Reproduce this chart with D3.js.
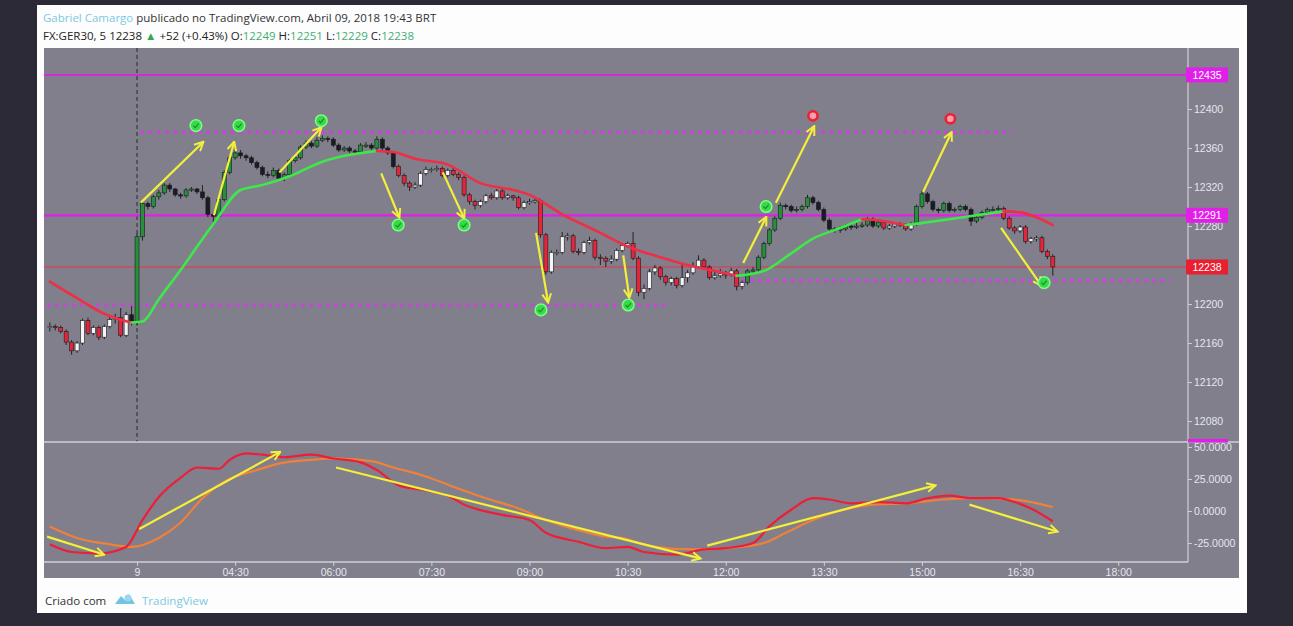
<!DOCTYPE html>
<html>
<head>
<meta charset="utf-8">
<script src="https://cdnjs.cloudflare.com/ajax/libs/d3/7.8.5/d3.min.js"></script>
<style>
html,body{margin:0;padding:0;background:#2b2a36;overflow:hidden;}
svg{display:block;font-family:"Open Sans",sans-serif;}
</style>
</head>
<body>
<svg id="chart" width="1293" height="626"></svg>
<script>
// FX:GER30, 5 min bars, 09 Apr 2018, first bar 01:40
var firstOpen = 12176;
var closes = [
12177,12176,12172,12161,12152,12160,12183,12170,12176,12166,
12177,12184,12186,12168,12189,12182,12269,12303,12300,12310,
12314,12322,12318,12312,12311,12317,12318,12315,12309,12292,
12290,12307,12335,12350,12355,12352,12350,12345,12340,12333,
12332,12337,12329,12333,12347,12350,12361,12365,12362,12368,
12370,12369,12363,12358,12360,12357,12356,12363,12363,12360,
12369,12360,12355,12341,12332,12324,12320,12322,12334,12338,
12338,12339,12332,12337,12333,12330,12312,12305,12301,12305,
12311,12309,12316,12309,12311,12309,12299,12304,12305,12306,
12271,12233,12253,12253,12269,12270,12254,12253,12263,12265,
12248,12247,12244,12246,12255,12260,12262,12247,12212,12216,
12233,12237,12228,12222,12226,12219,12227,12232,12238,12245,
12238,12227,12229,12231,12230,12234,12218,12222,12234,12235,
12248,12262,12276,12288,12301,12300,12296,12297,12300,12309,
12304,12297,12286,12277,12276,12277,12280,12279,12280,12281,
12287,12280,12284,12278,12280,12282,12281,12277,12282,12300,
12313,12305,12297,12296,12303,12296,12297,12300,12297,12285,
12289,12294,12297,12297,12298,12288,12278,12275,12279,12264,
12267,12268,12254,12249,12238];
var highs = [
12181,12179,12178,12174,12163,12162,12185,12186,12178,12178,
12179,12188,12190,12196,12192,12198,12272,12306,12305,12312,
12317,12324,12324,12319,12314,12319,12320,12319,12322,12311,
12294,12309,12337,12352,12358,12358,12354,12352,12347,12342,
12336,12340,12339,12335,12349,12352,12363,12368,12367,12371,
12373,12372,12371,12365,12362,12362,12359,12365,12366,12365,
12372,12371,12362,12357,12343,12334,12326,12325,12336,12341,
12340,12342,12341,12339,12341,12335,12332,12314,12307,12307,
12313,12314,12318,12318,12313,12312,12311,12306,12308,12309,
12308,12273,12255,12256,12274,12273,12272,12257,12265,12269,
12267,12251,12249,12250,12257,12262,12264,12274,12249,12220,
12236,12240,12239,12230,12228,12228,12242,12235,12243,12250,
12247,12240,12233,12236,12234,12237,12236,12224,12236,12238,
12250,12264,12278,12290,12304,12303,12302,12300,12302,12312,
12311,12306,12299,12288,12279,12280,12282,12282,12283,12284,
12289,12289,12286,12286,12282,12284,12284,12283,12284,12302,
12316,12315,12307,12299,12305,12305,12299,12302,12302,12299,
12291,12296,12299,12300,12301,12300,12290,12280,12281,12281,
12269,12270,12270,12256,12251];
var lows = [
12172,12173,12170,12158,12148,12150,12158,12168,12168,12163,
12164,12175,12180,12166,12166,12178,12178,12265,12297,12298,
12307,12312,12315,12310,12308,12309,12315,12313,12307,12289,
12284,12288,12305,12333,12348,12349,12347,12343,12338,12331,
12329,12330,12326,12326,12331,12345,12348,12359,12360,12360,
12366,12366,12361,12356,12356,12355,12354,12354,12360,12358,
12358,12358,12353,12339,12330,12321,12316,12318,12320,12332,
12335,12336,12330,12330,12331,12327,12310,12302,12297,12299,
12303,12307,12307,12307,12307,12306,12297,12297,12302,12303,
12268,12230,12231,12250,12251,12265,12252,12250,12251,12261,
12245,12240,12238,12241,12244,12253,12258,12245,12208,12205,
12214,12230,12225,12219,12219,12216,12217,12222,12230,12236,
12236,12225,12225,12227,12226,12228,12214,12215,12220,12231,
12233,12246,12260,12274,12286,12297,12294,12294,12295,12298,
12302,12295,12284,12275,12273,12273,12275,12276,12277,12278,
12279,12278,12278,12276,12276,12278,12279,12275,12275,12280,
12298,12303,12295,12293,12294,12294,12294,12295,12295,12280,
12283,12287,12292,12295,12295,12286,12276,12272,12273,12262,
12262,12264,12252,12246,12229];

// bars painted green/black (trend up) instead of white/red
var upRanges = [[15,63],[128,152],[159,174]];

// moving average (bar index, price)
var maBars   = [0,5,10,13,15,17,20,24,30,35,39,44,50,54,60,63,67,73,79,85,88,94,101,106,112,117,122,126,131,136,140,145,149,152,155,157,160,165,170,175,178,181,184];
var maValues = [12223,12206,12190,12184,12181,12182,12205,12235,12282,12317,12322,12331,12346,12352,12357,12356,12349,12343,12324,12317,12312,12292,12273,12259,12248,12240,12234,12229,12234,12252,12267,12278,12287,12286,12283,12281,12283,12287,12291,12295,12294,12289,12281];

// oscillator, fast (red) and slow (orange)
var fastBars   = [0,4,9,14,17,20,24,27,31,33,36,39,43,48,52,57,60,64,69,73,76,83,88,91,97,102,106,109,115,120,124,129,132,136,140,143,147,152,157,161,165,169,174,177,180,184];
var fastValues = [-26,-32,-33,-28,-7,11,26,34,33,40,45,44,42,44,41,38,32,20,16,12,5,-3,-7,-17,-24,-29,-28,-32,-34,-30,-29,-25,-12,1,10,9,6,7,6,10,12,10,10,7,2,-8];
var slowBars   = [0,5,11,15,20,24,28,32,38,42,48,53,59,63,69,74,80,86,91,97,102,105,108,111,118,124,131,135,140,144,151,157,164,170,177,184];
var slowValues = [-12,-21,-26,-28,-21,-9,10,23,32,37,40,41,39,34,27,19,10,2,-7,-15,-20,-21,-25,-28,-30,-29,-25,-17,-7,-1,5,6,9,10,9,3];

// horizontal levels
var solidLevels = [12435, 12291];
var lastPrice = 12238;
var dottedFrom  = [16.7, -2, 125.5];
var dottedTo    = [176.4, 113.4, 205.4];
var dottedPrice = [12376, 12199, 12224];

// drawings: [fromBar, fromValue, toBar, toValue]
var priceArrows = [
  [16.7,12304,28.1,12366],[30.1,12291,33.8,12366],[42.1,12335,49.8,12381],
  [60.8,12334,64.1,12289],[72.1,12335,76,12288],[89.2,12273,91.4,12202],
  [105.2,12250,106.3,12207],[127.2,12242,131.4,12289],[133.2,12304,140.2,12382],
  [160.2,12315,165.4,12376],[174.5,12278,181.9,12219]];
var oscArrows = [
  [-0.5,-20,9.9,-34],[16.4,-14,42.2,46],[52.5,34,119.3,-37],
  [120.6,-27,162.4,20],[168.7,5,184.8,-16]];
var markerBars   = [26.8,34.7,49.8,63.9,76,90.1,106.1,131.4,140,165.2,182.4];
var markerPrices = [12383,12383,12388,12281,12281,12194,12199,12300,12393,12390,12222];
var markerKinds  = ["buy","buy","buy","buy","buy","buy","buy","buy","sell","sell","buy"];

// axes
var priceTicks = [12080,12120,12160,12200,12240,12280,12320,12360,12400];
var oscTicks = [50,25,0,-25];
var timeTicks  = ["03:00","04:30","06:00","07:30","09:00","10:30","12:00","13:30","15:00","16:30","18:00"];
var timeLabels = ["9","04:30","06:00","07:30","09:00","10:30","12:00","13:30","15:00","16:30","18:00"];

var bg = "#807f8b", axisCol = "#cfcfd8", textCol = "#e6e6ee";
var magenta = "#e11fe8", yellow = "#f2f03a";

var svg = d3.select("#chart");
var defs = svg.append("defs");

var t0 = new Date(2018,3,9,1,40);
function barTime(i){ return new Date(t0.getTime() + i*5*60000); }
var parseT = d3.timeParse("%H:%M");
function dayTime(s){ var d = parseT(s); return new Date(2018,3,9,d.getHours(),d.getMinutes()); }

var x = d3.scaleTime()
  .domain([new Date(2018,3,9,1,34,40), new Date(2018,3,9,19,4)])
  .range([44,1188]);
var y = d3.scaleLinear().domain([12058.5,12462.6]).range([442,48]);
var yo = d3.scaleLinear().domain([-39.8,53.9]).range([562,442]);

// card + panel
svg.append("rect").attr("x",37).attr("y",5).attr("width",1210).attr("height",608).attr("fill","#fdfdfd");
svg.append("rect").attr("x",44).attr("y",48).attr("width",1195).attr("height",530).attr("fill",bg);

defs.append("clipPath").attr("id","clipMain").append("rect")
  .attr("x",44).attr("y",48).attr("width",1144).attr("height",394);
defs.append("clipPath").attr("id","clipOsc").append("rect")
  .attr("x",44).attr("y",442).attr("width",1144).attr("height",120);

defs.append("marker").attr("id","ah")
  .attr("viewBox","0 0 10 10").attr("refX",8.5).attr("refY",5)
  .attr("markerWidth",11).attr("markerHeight",11)
  .attr("markerUnits","userSpaceOnUse").attr("orient","auto")
  .append("path").attr("d","M1,1 L9,5 L1,9")
  .attr("fill","none").attr("stroke",yellow).attr("stroke-width",1.8);

var main = svg.append("g").attr("clip-path","url(#clipMain)");
var osc = svg.append("g").attr("clip-path","url(#clipOsc)");

// day separator
main.append("line")
  .attr("x1",x(dayTime("03:00"))).attr("x2",x(dayTime("03:00")))
  .attr("y1",48).attr("y2",442)
  .attr("stroke","#2a2a30").attr("stroke-dasharray","4,3");

// levels
main.selectAll(".lvl").data(solidLevels).enter().append("line")
  .attr("x1",44).attr("x2",1188)
  .attr("y1",function(d){return y(d);}).attr("y2",function(d){return y(d);})
  .attr("stroke",magenta).attr("stroke-width",function(d,i){return i?2.2:1.6;});
main.append("line").attr("x1",44).attr("x2",1188)
  .attr("y1",y(lastPrice)).attr("y2",y(lastPrice))
  .attr("stroke","#e8334a").attr("stroke-width",1);
main.selectAll(".dot").data(dottedPrice).enter().append("line")
  .attr("x1",function(d,i){return x(barTime(dottedFrom[i]));})
  .attr("x2",function(d,i){return x(barTime(dottedTo[i]));})
  .attr("y1",function(d){return y(d);}).attr("y2",function(d){return y(d);})
  .attr("stroke","#d23ee4").attr("stroke-width",3.2)
  .attr("stroke-dasharray","3.2,5");

// candles
var bars = closes.map(function(c,i){
  return {i:i, t:barTime(i), o:i?closes[i-1]:firstOpen, h:highs[i], l:lows[i], c:c};
});
function isUp(i){ return upRanges.some(function(r){return i>=r[0]&&i<=r[1];}); }
function bodyFill(d){
  var rising = d.c >= d.o;
  if (isUp(d.i)) return rising ? "#24913a" : "#1b1b22";
  return rising ? "#f4f4f4" : "#e4253a";
}
var cg = main.selectAll(".candle").data(bars).enter().append("g");
cg.append("line")
  .attr("x1",function(d){return x(d.t);}).attr("x2",function(d){return x(d.t);})
  .attr("y1",function(d){return y(Math.max(d.h,d.o,d.c));})
  .attr("y2",function(d){return y(Math.min(d.l,d.o,d.c));})
  .attr("stroke","#222").attr("stroke-width",1);
cg.append("rect")
  .attr("x",function(d){return x(d.t)-2;}).attr("width",4)
  .attr("y",function(d){return y(Math.max(d.o,d.c));})
  .attr("height",function(d){return Math.max(1.2,y(Math.min(d.o,d.c))-y(Math.max(d.o,d.c)));})
  .attr("fill",bodyFill)
  .attr("stroke","#1c1c22").attr("stroke-width",0.6);

// moving average, coloured by slope
var maPts = maBars.map(function(b,i){return {t:barTime(b), v:maValues[i]};});
var runs = [], cur = null;
for (var k=0;k<maPts.length-1;k++){
  var upSeg = maPts[k+1].v > maPts[k].v;
  if (!cur || cur.up !== upSeg){ cur = {up:upSeg, pts:[maPts[k]]}; runs.push(cur); }
  cur.pts.push(maPts[k+1]);
}
var maLine = d3.line().x(function(d){return x(d.t);}).y(function(d){return y(d.v);}).curve(d3.curveMonotoneX);
main.selectAll(".ma").data(runs).enter().append("path")
  .attr("d",function(d){return maLine(d.pts);})
  .attr("fill","none").attr("stroke-width",2.6).attr("stroke-linecap","round")
  .attr("stroke",function(d){return d.up?"#3fe84a":"#ef2f47";});

// arrows
main.selectAll(".arw").data(priceArrows).enter().append("line")
  .attr("x1",function(d){return x(barTime(d[0]));}).attr("y1",function(d){return y(d[1]);})
  .attr("x2",function(d){return x(barTime(d[2]));}).attr("y2",function(d){return y(d[3]);})
  .attr("stroke",yellow).attr("stroke-width",2.2).attr("marker-end","url(#ah)");

// signal markers
var mk = main.selectAll(".mk").data(markerBars).enter().append("g")
  .attr("transform",function(d,i){return "translate("+x(barTime(d))+","+y(markerPrices[i])+")";});
mk.append("circle").attr("r",function(d,i){return markerKinds[i]==="buy"?5.8:4.6;})
  .attr("fill",function(d,i){return markerKinds[i]==="buy"?"#38d94a":"#f7a0a8";})
  .attr("stroke",function(d,i){return markerKinds[i]==="buy"?"#7cff86":"#ee2036";})
  .attr("stroke-width",function(d,i){return markerKinds[i]==="buy"?1.5:2.6;});
mk.filter(function(d,i){return markerKinds[i]==="buy";}).append("path")
  .attr("d","M-2.6,0 L-0.6,2 L2.6,-2").attr("fill","none")
  .attr("stroke","#1d8f2c").attr("stroke-width",1.2);

// oscillator pane
var oLine = d3.line().x(function(d){return x(d.t);}).y(function(d){return yo(d.v);}).curve(d3.curveMonotoneX);
osc.append("path")
  .attr("d",oLine(slowBars.map(function(b,i){return {t:barTime(b),v:slowValues[i]};})))
  .attr("fill","none").attr("stroke","#f0803a").attr("stroke-width",2.2);
osc.append("path")
  .attr("d",oLine(fastBars.map(function(b,i){return {t:barTime(b),v:fastValues[i]};})))
  .attr("fill","none").attr("stroke","#ee1d38").attr("stroke-width",2.2);
osc.selectAll(".oarw").data(oscArrows).enter().append("line")
  .attr("x1",function(d){return x(barTime(d[0]));}).attr("y1",function(d){return yo(d[1]);})
  .attr("x2",function(d){return x(barTime(d[2]));}).attr("y2",function(d){return yo(d[3]);})
  .attr("stroke",yellow).attr("stroke-width",2.2).attr("marker-end","url(#ah)");

// frame lines
svg.append("line").attr("x1",44).attr("x2",1239).attr("y1",442).attr("y2",442).attr("stroke",axisCol).attr("stroke-width",1.4);
svg.append("line").attr("x1",44).attr("x2",1188).attr("y1",562).attr("y2",562).attr("stroke",axisCol).attr("stroke-width",1.4);
svg.append("line").attr("x1",1188).attr("x2",1188).attr("y1",48).attr("y2",562).attr("stroke",axisCol).attr("stroke-width",1.2);

function styleAxis(g){
  g.select(".domain").remove();
  g.selectAll(".tick line").attr("stroke",axisCol);
  g.selectAll(".tick text").attr("fill",textCol).style("font-size","10.5px")
    .style("font-family","'Liberation Sans',Arial,sans-serif");
}
svg.append("g").attr("transform","translate(1188,0)")
  .call(d3.axisRight(y).tickValues(priceTicks).tickSize(4).tickPadding(2).tickFormat(d3.format("d")))
  .call(styleAxis);
svg.append("g").attr("transform","translate(1188,0)")
  .call(d3.axisRight(yo).tickValues(oscTicks).tickSize(4).tickPadding(2).tickFormat(function(d){return d.toFixed(4);}))
  .call(styleAxis);
svg.append("g").attr("transform","translate(0,562)")
  .call(d3.axisBottom(x).tickValues(timeTicks.map(dayTime)).tickSize(4).tickPadding(3)
    .tickFormat(function(d,i){return timeLabels[i];}))
  .call(styleAxis);

// price labels on the axis
var tags = [{v:solidLevels[0],c:magenta},{v:solidLevels[1],c:magenta},{v:lastPrice,c:"#e8202f"}];
var tg = svg.selectAll(".tag").data(tags).enter().append("g")
  .attr("transform",function(d){return "translate(1186,"+y(d.v)+")";});
tg.append("rect").attr("x",0).attr("y",-7.5).attr("width",42).attr("height",15).attr("fill",function(d){return d.c;});
tg.append("text").attr("x",21).attr("dy","0.36em").attr("text-anchor","middle")
  .attr("fill","#fff").style("font-size","10.5px").style("font-family","'Liberation Sans',Arial,sans-serif")
  .text(function(d){return d.v;});
svg.append("rect").attr("x",1188).attr("y",yo(yo.domain()[1])-3).attr("width",40).attr("height",3.5).attr("fill",magenta);

// header
var h1 = svg.append("text").attr("x",43).attr("y",22).style("font-size","11.5px");
h1.append("tspan").attr("fill","#7cc9df").text("Gabriel Camargo");
h1.append("tspan").attr("fill","#333").text(" publicado no TradingView.com, Abril 09, 2018 19:43 BRT");
var h2 = svg.append("text").attr("x",43).attr("y",40).style("font-size","11.5px").attr("fill","#222");
var parts = [["FX:GER30, 5 12238 ","#222"],["▲","#36a84a"],[" +52 (+0.43%) O:","#222"],["12249","#3fae74"],
  [" H:","#222"],["12251","#3fae74"],[" L:","#222"],["12229","#3fae74"],[" C:","#222"],["12238","#3fae74"]];
h2.selectAll("tspan").data(parts).enter().append("tspan")
  .attr("fill",function(d){return d[1];}).text(function(d){return d[0];});

// footer
svg.append("text").attr("x",45).attr("y",605).attr("fill","#333").style("font-size","11.5px").text("Criado com");
var logo = svg.append("g").attr("transform","translate(125,600)").attr("fill","#72c4e4");
logo.append("path").attr("d","M-10,4 L-4,-4 L0,0 L4,-6 L10,4 Z");
logo.append("circle").attr("cx",3).attr("cy",-2).attr("r",3.5).attr("fill","#9ad6ee");
svg.append("text").attr("x",142).attr("y",605).attr("fill","#7cc9df").style("font-size","11.5px").text("TradingView");
</script>
</body>
</html>
